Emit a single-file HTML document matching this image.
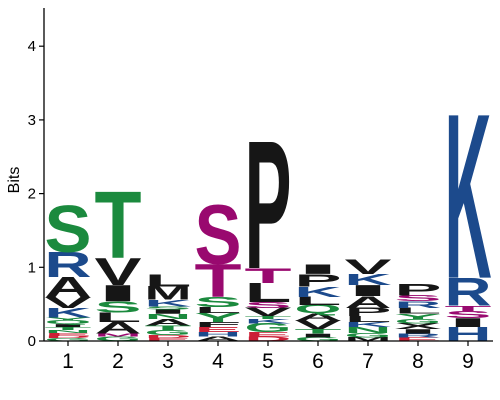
<!DOCTYPE html>
<html><head><meta charset="utf-8"><style>
body{margin:0;background:#fff;}
svg{display:block;font-family:"Liberation Sans",sans-serif;}
</style></head><body>
<svg id="logo" width="500" height="400">
<g id="marks"></g>
<g id="axes"></g>
</svg>
<script>
const positions = ["1","2","3","4","5","6","7","8","9"];
const yTicks = [0,1,2,3,4];
// letters bottom -> top per column
const columnLetters = [
 ["G","D","E","N","T","I","Q","Y","K","V","A","R","S"],
 ["G","M","A","L","S","I","V","T"],
 ["E","D","G","T","A","N","I","S","K","M","L"],
 ["A","H","E","F","Y","L","S","T","S"],
 ["D","E","G","K","T","V","S","L","T","P"],
 ["G","I","T","V","A","Q","L","K","P","I"],
 ["M","G","N","K","L","P","A","I","K","V"],
 ["E","R","I","X","G","Y","L","R","S","P"],
 ["H","I","S","T","R","K"]
];
const columnHeights = [
 [0.04,0.03,0.04,0.04,0.04,0.04,0.05,0.04,0.13,0.15,0.27,0.34,0.63],
 [0.06,0.04,0.16,0.13,0.15,0.22,0.37,0.91],
 [0.04,0.04,0.07,0.06,0.09,0.07,0.06,0.04,0.09,0.18,0.17],
 [0.06,0.06,0.07,0.07,0.12,0.08,0.14,0.45,0.80],
 [0.06,0.06,0.12,0.06,0.04,0.11,0.08,0.26,0.20,1.74],
 [0.05,0.05,0.06,0.12,0.10,0.11,0.11,0.14,0.17,0.13],
 [0.05,0.06,0.08,0.07,0.08,0.11,0.16,0.15,0.15,0.20],
 [0.05,0.05,0.06,0.08,0.06,0.07,0.08,0.09,0.08,0.16],
 [0.19,0.12,0.10,0.07,0.38,2.24]
];
const columnColors = [
 "grrggkggbkkbg","gmkkgkkg","rrggkgkgbkk","kbrkgkgmm","rrgbgkmkmk",
 "gkgkkgkbkk","kggbkkkkbk","rbkkggkbmk","bkmmbb"
];
const palette = {g:"#1b8a3e",b:"#1c4a8c",k:"#161616",m:"#99096f",r:"#cc1f36"};
const NS="http://www.w3.org/2000/svg";
const X0=44, Y0=341, PX=73.7;
function xPos(i){return 68+i*50;}
function yPos(v){return Y0-v*PX;}
const marks=document.getElementById('marks');
columnLetters.forEach((letters,ci)=>{
  const col=document.createElementNS(NS,'g');
  
  
  marks.appendChild(col);
  let cum=0;
  letters.forEach((L,li)=>{
    const h=columnHeights[ci][li];
    const yb=yPos(cum), yt=yPos(cum+h);
    cum+=h;
    const hp=yb-yt;
    const fill=palette[columnColors[ci][li]]||"#161616";
    const t=document.createElementNS(NS,'text');
    
    
    t.setAttribute('x','0');t.setAttribute('y','0');
    t.setAttribute('font-size','100');t.setAttribute('font-weight','bold');
    t.setAttribute('textLength','47');t.setAttribute('lengthAdjust','spacingAndGlyphs');
    t.setAttribute('fill',fill);
    t.setAttribute('transform','translate('+(xPos(ci)-23.5)+','+yb+') scale(1,'+(hp/70)+')');
    t.textContent=L;
    col.appendChild(t);
  });
});
const axes=document.getElementById('axes');
function add(tag,attrs,name,txt){
  const e=document.createElementNS(NS,tag);
  for(const k in attrs)e.setAttribute(k,attrs[k]);
  
  
  if(txt!==undefined)e.textContent=txt;
  axes.appendChild(e);return e;
}
add('line',{x1:X0,y1:8,x2:X0,y2:Y0,stroke:'#000','stroke-width':1.3},'y-axis-line');
add('line',{x1:X0,y1:Y0,x2:493,y2:Y0,stroke:'#000','stroke-width':1.3},'x-axis-line');
yTicks.forEach(v=>{
  add('line',{x1:X0-5,y1:yPos(v),x2:X0,y2:yPos(v),stroke:'#000','stroke-width':1.2},'y-tick-'+v);
  add('text',{x:X0-8,y:yPos(v)+5,'font-size':15,'text-anchor':'end',fill:'#000'},'y-tick-label-'+v,String(v));
});
positions.forEach((p,i)=>{
  add('line',{x1:xPos(i),y1:Y0,x2:xPos(i),y2:Y0+5,stroke:'#000','stroke-width':1.2},'x-tick-'+p);
  add('text',{x:xPos(i),y:Y0+27,'font-size':21,'text-anchor':'middle',fill:'#000'},'x-tick-label-'+p,p);
});
add('text',{x:0,y:0,'font-size':16,'text-anchor':'middle',fill:'#000',transform:'translate(19,180) rotate(-90)'},'y-axis-title','Bits');
</script>
</body></html>
